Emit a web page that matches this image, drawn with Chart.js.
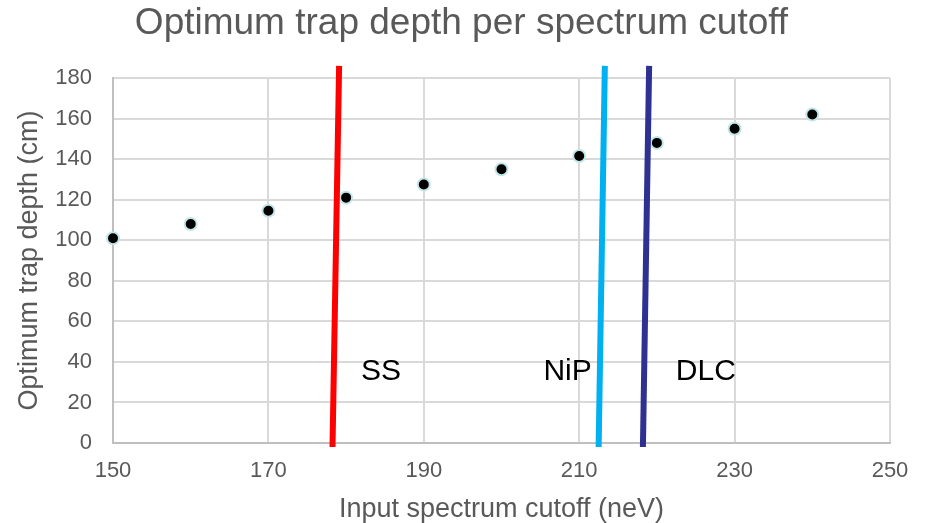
<!DOCTYPE html>
<html>
<head>
<meta charset="utf-8">
<script src="https://cdn.jsdelivr.net/npm/chart.js@4"></script>
<style>
  body { margin: 0; background: #fff; }
  #wrap { width: 930px; height: 523px; position: relative; }
</style>
</head>
<body>
<div id="wrap"><canvas id="chart"></canvas></div>
<script>
// measured points
const cutoffs = [150, 160, 170, 180, 190, 200, 210, 220, 230, 240];
const depths = [101, 108, 114.5, 121, 127.5, 135, 141.5, 148, 155, 162];

// material cutoff lines (bottom, top)
const ssLineX = [178.25, 179.1];
const nipLineX = [212.5, 213.3];
const dlcLineX = [218.2, 219.0];
const lineY = [-2, 186];

const materialLabels = ["SS", "NiP", "DLC"];
const labelX = [184.5, 208.5, 226.3];
const labelY = [34.9, 34.9, 34.9];

const xTicks = [150, 170, 190, 210, 230, 250];
const yTicks = [0, 20, 40, 60, 80, 100, 120, 140, 160, 180];

const grey = "#595959";
const font = "'Liberation Sans', Arial, sans-serif";

const toPts = (xs) => xs.map((x, i) => ({ x: x, y: lineY[i] }));

const cutoffLine = (xs, color) => ({
  type: "line",
  data: toPts(xs),
  borderColor: color,
  borderWidth: 6,
  pointRadius: 0,
  showLine: true,
  clip: false,
  borderCapStyle: "butt"
});

const labelPlugin = {
  id: "materialLabels",
  afterDatasetsDraw(chart) {
    const ctx = chart.ctx;
    const xs = chart.scales.x;
    const ys = chart.scales.y;
    ctx.save();
    ctx.font = "30px " + font;
    ctx.fillStyle = "#000";
    ctx.textAlign = "center";
    ctx.textBaseline = "middle";
    materialLabels.forEach((t, i) => {
      ctx.fillText(t, xs.getPixelForValue(labelX[i]), ys.getPixelForValue(labelY[i]));
    });
    ctx.restore();
  }
};

new Chart(document.getElementById("chart"), {
  type: "scatter",
  data: {
    datasets: [
      cutoffLine(ssLineX, "#ff0000"),
      cutoffLine(nipLineX, "#00b0f0"),
      cutoffLine(dlcLineX, "#2e3192"),
      {
        label: "Optimum depth",
        data: cutoffs.map((c, i) => ({ x: c, y: depths[i] })),
        backgroundColor: "#000",
        borderColor: "#c2e5e8",
        borderWidth: 2,
        pointRadius: 6,
        clip: false
      }
    ]
  },
  plugins: [labelPlugin],
  options: {
    responsive: true,
    maintainAspectRatio: false,
    animation: false,
    layout: { padding: { left: 33, right: 40, top: 0, bottom: 0 } },
    plugins: {
      legend: { display: false },
      tooltip: { enabled: false },
      title: {
        display: true,
        text: "Optimum trap depth per spectrum cutoff",
        color: grey,
        font: { family: font, size: 37, weight: "normal" },
        padding: { top: 2, bottom: 31.6 }
      }
    },
    scales: {
      x: {
        type: "linear",
        min: 150,
        max: 250,
        afterFit: (s) => { s.height = 80; },
        afterBuildTicks: (s) => { s.ticks = xTicks.map((v) => ({ value: v })); },
        ticks: { color: grey, font: { family: font, size: 22 }, padding: 15 },
        grid: { color: "#d9d9d9", lineWidth: 2, drawTicks: false },
        border: { color: "#bfbfbf", width: 2 },
        title: {
          display: true,
          text: "Input spectrum cutoff (neV)",
          color: grey,
          font: { family: font, size: 27, lineHeight: 1 },
          padding: { top: 0, bottom: 0 }
        }
      },
      y: {
        min: 0,
        max: 180,
        afterFit: (s) => { s.width = 80; },
        afterBuildTicks: (s) => { s.ticks = yTicks.map((v) => ({ value: v })); },
        ticks: { color: grey, font: { family: font, size: 22 }, padding: 21 },
        grid: { color: "#d9d9d9", lineWidth: 2, drawTicks: false },
        border: { color: "#bfbfbf", width: 2 },
        title: {
          display: true,
          text: "Optimum trap depth (cm)",
          color: grey,
          font: { family: font, size: 27, lineHeight: 1 },
          padding: { top: -17, bottom: 0 }
        }
      }
    }
  }
});
</script>
</body>
</html>
